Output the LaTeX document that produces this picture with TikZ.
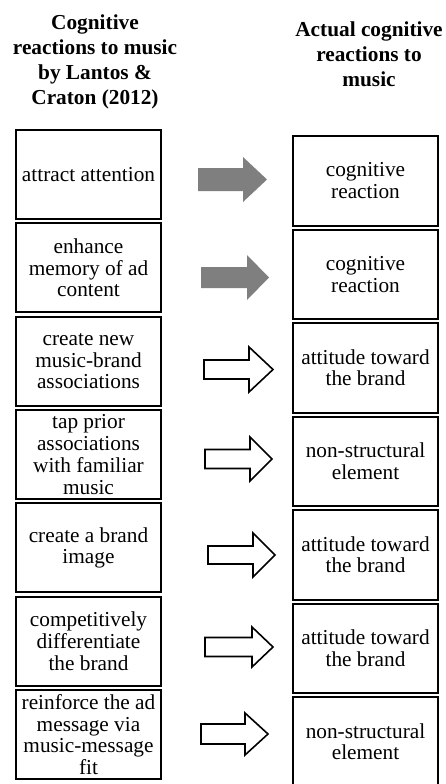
\documentclass[tikz,border=0pt]{standalone}
\usepackage{fontspec}
\setmainfont{Liberation Serif}[Ligatures=TeX]
\newfontfamily\timesfont{Liberation Serif}
\definecolor{arrowgray}{RGB}{127,127,127}
% block arrow: [style]{tail x}{head base x}{tip x}{mid y}{shaft half}{head half}
\newcommand{\blockarrow}[7][]{%
  \draw[#1] (#2,{#5-#6}) -- (#3,{#5-#6}) -- (#3,{#5-#7}) -- (#4,#5)
    -- (#3,{#5+#7}) -- (#3,{#5+#6}) -- (#2,{#5+#6}) -- cycle;}
\begin{document}
\begin{tikzpicture}[x=1pt,y=-1pt,
  box/.style={draw=black, line width=2pt, fill=white, inner sep=0pt,
    align=center, font=\timesfont\fontsize{21.3}{21.7}\selectfont},
  lbox/.style={box, minimum width=145pt, minimum height=89pt},
  rbox/.style={box, minimum width=144.4pt, minimum height=89.5pt},
  heading/.style={align=center, inner sep=0pt, anchor=north,
    font=\timesfont\fontsize{21.3}{25}\selectfont\bfseries},
  solidarrow/.style={fill=arrowgray, draw=none},
  hollowarrow/.style={fill=white, draw=black, line width=1.6pt, line join=miter}]
\clip (0,0) rectangle (446,784);
\fill[white] (0,0) rectangle (446,784);

% column headings
\node[heading] (hl) at (95,15) {Cognitive\\reactions to music\\by Lantos \&\\Craton (2012)};
\node[heading] (hr) at (369,21.7) {Actual cognitive\\reactions to\\music};

% left column
\node[lbox] (l1) at (88.5,174.5) {attract attention};
\node[lbox] (l2) at (88.5,267.8) {enhance\\memory of ad\\content};
\node[lbox] (l3) at (88.5,361.2) {create new\\music-brand\\associations};
\node[lbox] (l4) at (88.5,454.5) {tap prior\\associations\\with familiar\\music};
\node[lbox] (l5) at (88.5,547.8) {create a brand\\image};
\node[lbox] (l6) at (88.5,641.2) {competitively\\differentiate\\the brand};
\node[lbox] (l7) at (88.5,734.5) {reinforce the ad\\message via\\music-message\\fit};

% right column
\node[rbox] (r1) at (365.5,180.8) {cognitive\\reaction};
\node[rbox] (r2) at (365.5,274.3) {cognitive\\reaction};
\node[rbox] (r3) at (365.5,367.8) {attitude toward\\the brand};
\node[rbox] (r4) at (365.5,461.3) {non-structural\\element};
\node[rbox] (r5) at (365.5,554.8) {attitude toward\\the brand};
\node[rbox] (r6) at (365.5,648.3) {attitude toward\\the brand};
\node[rbox] (r7) at (365.5,741.8) {non-structural\\element};

% block arrows between the columns
\blockarrow[solidarrow]{198}{243}{267}{179.5}{11.5}{22.5}
\blockarrow[solidarrow]{201}{247}{269}{277.5}{10.5}{22.5}
\blockarrow[hollowarrow]{204}{249}{273}{369.5}{9.5}{22.5}
\blockarrow[hollowarrow]{205}{250}{272}{459}{9.5}{22}
\blockarrow[hollowarrow]{208}{253}{275}{555}{9}{22}
\blockarrow[hollowarrow]{205}{252}{273}{647}{9.5}{20}
\blockarrow[hollowarrow]{201}{245}{268}{734}{10}{21}
\end{tikzpicture}
\end{document}
